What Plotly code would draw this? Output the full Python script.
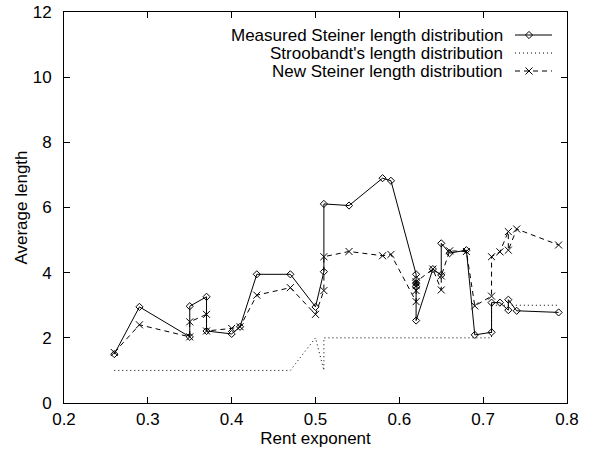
import plotly.graph_objects as go

# ---------------- data ----------------
rent_measured = [0.26, 0.29, 0.35, 0.35, 0.37, 0.37, 0.40, 0.41, 0.43, 0.47, 0.50, 0.51, 0.51,
                 0.54, 0.58, 0.59, 0.62, 0.62, 0.62, 0.62, 0.62, 0.64, 0.65, 0.65, 0.66, 0.68,
                 0.69, 0.71, 0.71, 0.72, 0.73, 0.73, 0.74, 0.79]
len_measured = [1.50, 2.95, 2.03, 2.97, 3.26, 2.21, 2.12, 2.34, 3.95, 3.95, 2.95, 4.03, 6.11,
                6.06, 6.90, 6.82, 3.95, 3.77, 3.67, 3.57, 2.53, 4.11, 3.93, 4.90, 4.60, 4.69,
                2.09, 2.17, 3.08, 3.08, 2.85, 3.17, 2.83, 2.78]

rent_strb = [0.26, 0.29, 0.35, 0.37, 0.40, 0.41, 0.43, 0.47, 0.50, 0.51, 0.51, 0.54, 0.58,
             0.59, 0.62, 0.64, 0.65, 0.66, 0.68, 0.69, 0.71, 0.71, 0.72, 0.73, 0.74, 0.79]
len_strb = [1, 1, 1, 1, 1, 1, 1, 1, 2, 1, 2, 2, 2,
            2, 2, 2, 2, 2, 2, 2, 2, 3, 3, 3, 3, 3]

rent_new = [0.26, 0.29, 0.35, 0.35, 0.37, 0.37, 0.40, 0.41, 0.43, 0.47, 0.50, 0.51, 0.51,
            0.54, 0.58, 0.59, 0.62, 0.62, 0.62, 0.62, 0.64, 0.65, 0.65, 0.66, 0.68,
            0.69, 0.71, 0.71, 0.72, 0.73, 0.73, 0.74, 0.79]
len_new = [1.55, 2.40, 2.03, 2.49, 2.72, 2.21, 2.29, 2.34, 3.31, 3.54, 2.72, 3.45, 4.49,
           4.65, 4.52, 4.56, 3.11, 3.45, 3.60, 3.72, 4.11, 3.47, 3.90, 4.67, 4.65,
           2.98, 3.28, 4.49, 4.64, 5.26, 4.69, 5.34, 4.85]

series_names = ["Measured Steiner length distribution",
                "Stroobandt's length distribution",
                "New Steiner length distribution"]
x_ticks = [0.2, 0.3, 0.4, 0.5, 0.6, 0.7, 0.8]
x_tick_text = ["0.2", "0.3", "0.4", "0.5", "0.6", "0.7", "0.8"]
y_ticks = [0, 2, 4, 6, 8, 10, 12]
y_tick_text = ["0", "2", "4", "6", "8", "10", "12"]
x_title = "Rent exponent"
y_title = "Average length"

# ---------------- figure ----------------
FONT = "Liberation Sans, Arial, Helvetica, sans-serif"
W, H = 590, 449
ML, MR, MT, MB = 64, 23, 12, 46
DIAMOND = dict(symbol="diamond-open", size=5.5, color="black", line=dict(width=1, color="black"))
XMARK = dict(symbol="x-thin-open", size=7, color="black", line=dict(width=1, color="black"))

fig = go.Figure()

fig.add_trace(go.Scatter(
    x=rent_measured, y=len_measured, mode="lines+markers", name=series_names[0],
    line=dict(color="black", width=1), marker=DIAMOND, showlegend=False))
fig.add_trace(go.Scatter(
    x=rent_strb, y=len_strb, mode="lines", name=series_names[1],
    line=dict(color="black", width=1, dash="1px,3px"), showlegend=False))
fig.add_trace(go.Scatter(
    x=rent_new, y=len_new, mode="lines+markers", name=series_names[2],
    line=dict(color="black", width=1, dash="5px,4px"), marker=XMARK, showlegend=False))

# --- gnuplot-style key (text left of sample), drawn on a pixel-space overlay axis ---
key_rows = [35, 53, 71]
key_text_right = 505
key_line = (515, 552)
key_marker_x = 529
key_dash = ["solid", "1px,3px", "5px,4px"]
key_symbols = [DIAMOND, None, XMARK]
for i, name in enumerate(series_names):
    yy = key_rows[i]
    fig.add_annotation(x=key_text_right, y=yy, xref="x2", yref="y2", text=name,
                       showarrow=False, xanchor="right", yanchor="middle",
                       font=dict(family=FONT, size=17, color="black"))
    fig.add_trace(go.Scatter(x=list(key_line), y=[yy, yy], xaxis="x2", yaxis="y2",
                             mode="lines", line=dict(color="black", width=1, dash=key_dash[i]),
                             showlegend=False, hoverinfo="skip"))
    if key_symbols[i]:
        fig.add_trace(go.Scatter(x=[key_marker_x], y=[yy], xaxis="x2", yaxis="y2",
                                 mode="markers", marker=key_symbols[i],
                                 showlegend=False, hoverinfo="skip"))

axis_common = dict(showgrid=False, zeroline=False, showline=True, linecolor="black",
                   linewidth=1, mirror="ticks", ticks="inside", ticklen=6,
                   tickcolor="black", tickwidth=1, automargin=False,
                   tickfont=dict(family=FONT, size=17, color="black"))

fig.update_layout(
    width=W, height=H,
    margin=dict(l=ML, r=MR, t=MT, b=MB, pad=0),
    paper_bgcolor="white", plot_bgcolor="white",
    font=dict(family=FONT, size=17, color="black"),
    showlegend=False,
    xaxis=dict(range=[0.2, 0.8], tickvals=x_ticks, ticktext=x_tick_text,
               title=dict(text=x_title, font=dict(family=FONT, size=17), standoff=0),
               ticklabelstandoff=1, **axis_common),
    yaxis=dict(range=[0, 12], tickvals=y_ticks, ticktext=y_tick_text,
               title=dict(text=y_title, font=dict(family=FONT, size=17), standoff=0),
               ticklabelstandoff=8, **axis_common),
    xaxis2=dict(range=[ML, W - MR], overlaying="x", visible=False, fixedrange=True),
    yaxis2=dict(range=[H - MB, MT], overlaying="y", visible=False, fixedrange=True),
)

fig.write_html("out.html", config={"displayModeBar": False},
               post_script="document.body.style.margin='0';document.body.style.overflow='hidden';")
